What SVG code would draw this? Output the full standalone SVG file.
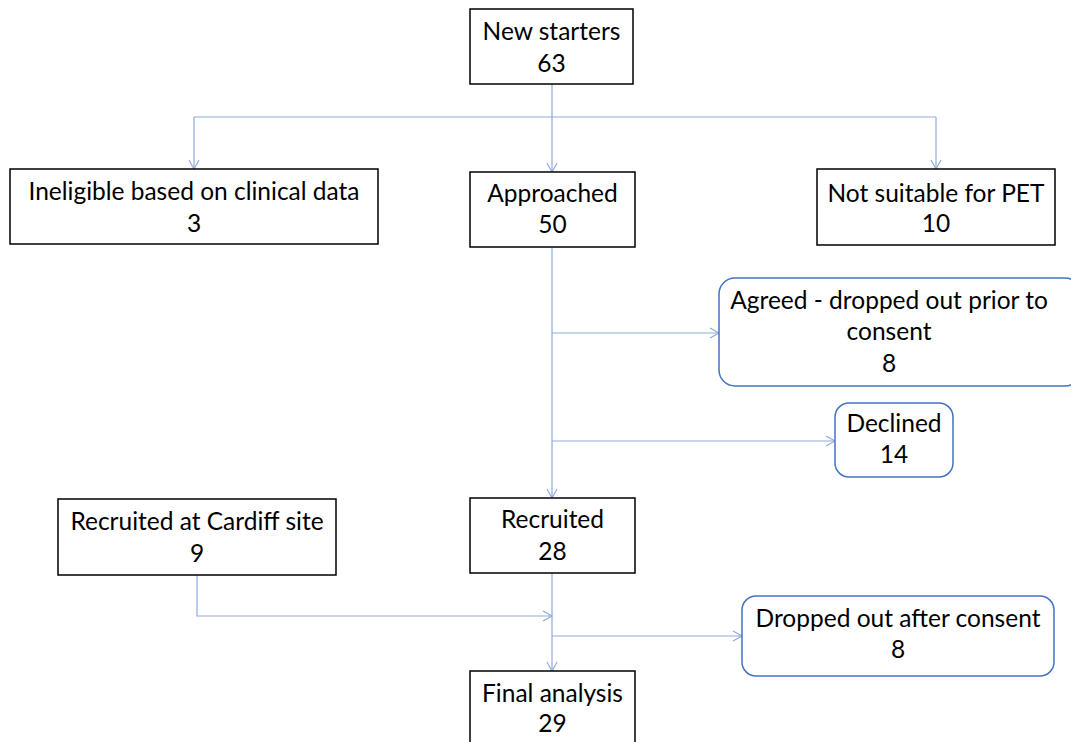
<svg xmlns="http://www.w3.org/2000/svg" width="1071" height="742" viewBox="0 0 1071 742">
<defs>
<marker id="arr" markerUnits="userSpaceOnUse" markerWidth="12" markerHeight="12" viewBox="0 0 12 12" refX="10" refY="6" orient="auto">
<path d="M1,1 L10,6 L1,11" fill="none" stroke="#8FAADC" stroke-width="1.2"/>
</marker>
<style>
.box{fill:#fff;stroke:#000;stroke-width:1.5}
.rbox{fill:#fff;stroke:#4472C4;stroke-width:1.5}
.t{font-family:Lato,"Liberation Sans",sans-serif;font-size:24.5px;fill:#000;text-anchor:middle}
.c{fill:none;stroke:#8FAADC;stroke-width:1.2}
</style>
</defs>
<rect width="1071" height="742" fill="#fff"/>
<g id="connectors">
<path class="c" d="M552,84 V117"/>
<path class="c" d="M194,117 H936"/>
<path class="c" d="M194,117 V169" marker-end="url(#arr)"/>
<path class="c" d="M552,117 V172" marker-end="url(#arr)"/>
<path class="c" d="M936,117 V169" marker-end="url(#arr)"/>
<path class="c" d="M552,247 V498" marker-end="url(#arr)"/>
<path class="c" d="M552,333 H719" marker-end="url(#arr)"/>
<path class="c" d="M552,441 H835" marker-end="url(#arr)"/>
<path class="c" d="M552,573 V671" marker-end="url(#arr)"/>
<path class="c" d="M197,575 V616 H552" marker-end="url(#arr)"/>
<path class="c" d="M552,636 H742" marker-end="url(#arr)"/>
</g>
<g id="new-starters">
<rect class="box" x="470" y="9" width="163" height="75"/>
<text class="t" x="551.5" y="40">New starters</text>
<text class="t" x="551.5" y="72">63</text>
</g>
<g id="ineligible">
<rect class="box" x="10" y="169" width="368" height="75"/>
<text class="t" x="194" y="200">Ineligible based on clinical data</text>
<text class="t" x="194" y="232">3</text>
</g>
<g id="approached">
<rect class="box" x="470" y="172" width="165" height="75"/>
<text class="t" x="552.5" y="202">Approached</text>
<text class="t" x="552.5" y="233">50</text>
</g>
<g id="not-suitable">
<rect class="box" x="817" y="169" width="238" height="76"/>
<text class="t" x="936" y="202">Not suitable for PET</text>
<text class="t" x="936" y="232">10</text>
</g>
<g id="agreed">
<rect class="rbox" x="719" y="278" width="362" height="108" rx="16"/>
<text class="t" x="889" y="309">Agreed - dropped out prior to</text>
<text class="t" x="889" y="340">consent</text>
<text class="t" x="889" y="372">8</text>
</g>
<g id="declined">
<rect class="rbox" x="835" y="403" width="118" height="74" rx="14"/>
<text class="t" x="894" y="432">Declined</text>
<text class="t" x="894" y="463">14</text>
</g>
<g id="cardiff">
<rect class="box" x="58" y="499" width="278" height="76"/>
<text class="t" x="197" y="530">Recruited at Cardiff site</text>
<text class="t" x="197" y="562">9</text>
</g>
<g id="recruited">
<rect class="box" x="470" y="498" width="165" height="75"/>
<text class="t" x="552.5" y="528">Recruited</text>
<text class="t" x="552.5" y="560">28</text>
</g>
<g id="dropped">
<rect class="rbox" x="742" y="596" width="312" height="80" rx="14"/>
<text class="t" x="898" y="627">Dropped out after consent</text>
<text class="t" x="898" y="658">8</text>
</g>
<g id="final">
<rect class="box" x="470" y="671" width="165" height="90"/>
<text class="t" x="552.5" y="702">Final analysis</text>
<text class="t" x="552.5" y="732">29</text>
</g>
</svg>
